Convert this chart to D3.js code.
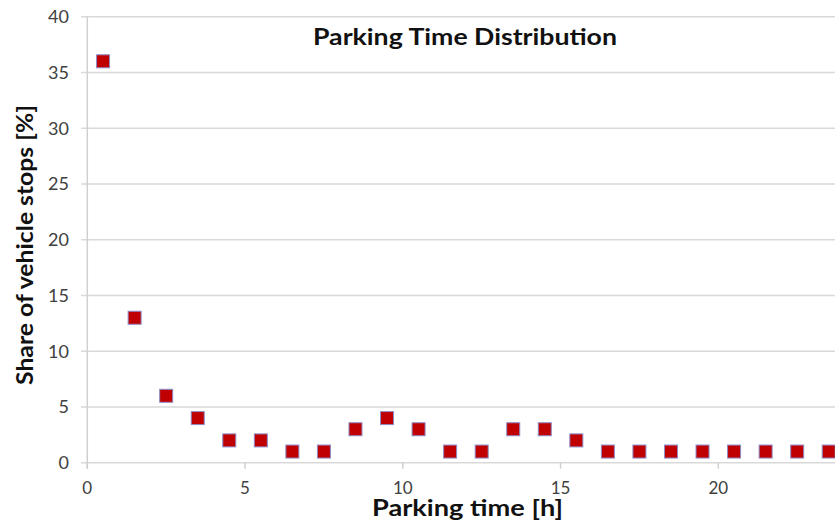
<!DOCTYPE html>
<html><head><meta charset="utf-8">
<script src="https://cdn.jsdelivr.net/npm/d3@7"></script>
<style>body{margin:0;background:#fff;} svg{display:block;}</style>
</head><body>
<svg id="c" width="835" height="521"></svg>
<script>
const hours = [0.5,1.5,2.5,3.5,4.5,5.5,6.5,7.5,8.5,9.5,10.5,11.5,12.5,13.5,14.5,15.5,16.5,17.5,18.5,19.5,20.5,21.5,22.5,23.5];
const shares = [36,13,6,4,2,2,1,1,3,4,3,1,1,3,3,2,1,1,1,1,1,1,1,1];
const xTicks = [0,5,10,15,20];
const yTicks = [0,5,10,15,20,25,30,35,40];
const title = "Parking Time Distribution";
const xTitle = "Parking time [h]";
const yTitle = "Share of vehicle stops [%]";

const svg = d3.select("#c");
const font = "Lato, 'Open Sans', sans-serif";
const x = d3.scaleLinear().domain([0,24]).range([87.3, 87.3+24*31.55]);
const y = d3.scaleLinear().domain([0,40]).range([462.7, 16.7]);

// gridlines
svg.append("g").selectAll("line").data(yTicks).join("line")
  .attr("x1", 81).attr("x2", 835)
  .attr("y1", d=>y(d)).attr("y2", d=>y(d))
  .attr("stroke", "#d9d9d9").attr("stroke-width", 1.5);

// y axis line
svg.append("line").attr("x1", x(0)).attr("x2", x(0)).attr("y1", y(40)).attr("y2", y(0)+6)
  .attr("stroke", "#d0d0d0").attr("stroke-width", 1.5);
// x ticks
svg.append("g").selectAll("line").data(xTicks).join("line")
  .attr("x1", d=>x(d)).attr("x2", d=>x(d)).attr("y1", y(0)).attr("y2", y(0)+6)
  .attr("stroke", "#d0d0d0").attr("stroke-width", 1.5);

// y tick labels
svg.append("g").selectAll("text").data(yTicks).join("text")
  .attr("x", 69).attr("y", d=>y(d)).attr("dy", "0.35em")
  .attr("text-anchor", "end").attr("font-family", font).attr("font-size", 18)
  .attr("fill", "#404040").text(d=>d);
// x tick labels
svg.append("g").selectAll("text").data(xTicks).join("text")
  .attr("x", d=>x(d)).attr("y", 493.5)
  .attr("text-anchor", "middle").attr("font-family", font).attr("font-size", 17)
  .attr("fill", "#404040").text(d=>d);

// markers
const s = 13;
svg.append("g").selectAll("rect").data(hours.map((h,i)=>({h, v:shares[i]}))).join("rect")
  .attr("x", d=>x(d.h)-s/2).attr("y", d=>y(d.v)-s/2)
  .attr("width", s).attr("height", s)
  .attr("fill", "#c00000").attr("stroke", "#8c8cc8").attr("stroke-width", 1);

// titles
function boldText(t, len) {
  return t.attr("text-anchor", "middle").attr("font-family", font).attr("font-weight", "bold")
    .attr("font-size", 23.5).attr("fill", "#111")
    .attr("textLength", len).attr("lengthAdjust", "spacingAndGlyphs");
}
boldText(svg.append("text").attr("x", 465).attr("y", 45), 304).text(title);
boldText(svg.append("text").attr("x", 467.5).attr("y", 516), 191).text(xTitle);
boldText(svg.append("text").attr("transform", "translate(33,245) rotate(-90)"), 280).text(yTitle);
</script>
</body></html>
